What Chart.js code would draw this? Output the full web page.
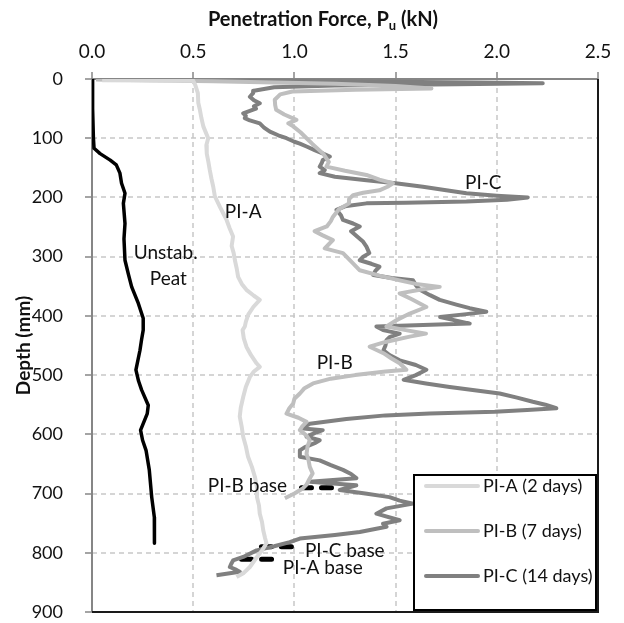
<!DOCTYPE html>
<html>
<head>
<meta charset="utf-8">
<script src="https://cdn.jsdelivr.net/npm/chart.js@4.4.1/dist/chart.umd.min.js"></script>
<style>
  html, body { margin: 0; padding: 0; background: #fff; }
  #chart { display: block; }
</style>
</head>
<body>
<canvas id="chart" width="624" height="623"></canvas>
<script>
// ---- data: depth (mm) and penetration force (kN) ----
const xTicks = [0, 0.5, 1.0, 1.5, 2.0, 2.5];
const yTicks = [0, 100, 200, 300, 400, 500, 600, 700, 800, 900];

const piA_depth = [2, 3, 10, 24, 40, 52, 65, 80, 100, 112, 126, 140, 154, 168, 182, 198, 216, 228, 238, 252, 266, 282, 294, 306, 320, 334, 346, 356, 366, 373, 385, 398, 410, 418, 424, 438, 452, 466, 480, 486, 494, 503, 520, 537, 555, 570, 588, 604, 620, 638, 655, 672, 690, 706, 720, 734, 748, 762, 775, 784, 796, 808, 824, 834, 841];
const piA_force = [0.05, 0.50, 0.51, 0.523, 0.525, 0.533, 0.54, 0.55, 0.574, 0.565, 0.567, 0.575, 0.582, 0.59, 0.599, 0.607, 0.632, 0.65, 0.665, 0.68, 0.697, 0.69, 0.70, 0.706, 0.715, 0.722, 0.74, 0.763, 0.80, 0.829, 0.797, 0.772, 0.76, 0.755, 0.744, 0.75, 0.763, 0.785, 0.813, 0.829, 0.80, 0.78, 0.76, 0.747, 0.735, 0.73, 0.74, 0.747, 0.76, 0.771, 0.79, 0.805, 0.815, 0.815, 0.825, 0.829, 0.84, 0.846, 0.855, 0.862, 0.84, 0.813, 0.78, 0.75, 0.714];

const piB_depth = [1, 4, 8, 12, 16, 18, 21, 26, 35, 44, 52, 60, 69, 75, 80, 90, 100, 110, 126, 140, 148, 155, 162, 170, 176, 182, 188, 192, 196, 203, 210, 220, 233, 240, 249, 257, 264, 272, 279, 286, 294, 308, 323, 332, 340, 346, 351, 356, 362, 372, 385, 396, 408, 418, 424, 430, 435, 444, 452, 463, 472, 480, 491, 494, 500, 506, 514, 522, 531, 540, 548, 556, 565, 572, 579, 586, 593, 602, 610, 620, 633, 644, 655, 666, 678, 685, 691, 700, 708];
const piB_force = [0.02, 0.6, 1.2, 1.5, 1.677, 1.3, 0.99, 0.93, 0.903, 0.905, 0.91, 0.95, 1.01, 0.97, 0.994, 1.03, 1.06, 1.09, 1.142, 1.17, 1.158, 1.25, 1.356, 1.42, 1.487, 1.46, 1.42, 1.34, 1.29, 1.27, 1.27, 1.22, 1.19, 1.18, 1.16, 1.10, 1.14, 1.19, 1.17, 1.15, 1.24, 1.28, 1.323, 1.42, 1.52, 1.60, 1.718, 1.62, 1.52, 1.58, 1.652, 1.57, 1.50, 1.455, 1.55, 1.65, 1.57, 1.45, 1.372, 1.44, 1.48, 1.52, 1.553, 1.45, 1.30, 1.18, 1.092, 1.05, 1.027, 1.00, 0.994, 0.975, 0.961, 1.02, 1.06, 1.04, 1.027, 1.06, 1.076, 1.065, 1.06, 1.07, 1.076, 1.09, 1.07, 1.06, 1.043, 1.0, 0.953];

const piC_depth = [0, 2, 4, 6, 7, 9, 11, 14, 20, 24, 30, 36, 41, 46, 50, 55, 58, 62, 66, 70, 75, 82, 89, 95, 100, 106, 109, 114, 120, 126, 131, 137, 142, 148, 154, 159, 165, 171, 176, 182, 188, 193, 197, 200, 204, 207, 209, 210, 215, 221, 230, 238, 244, 249, 257, 266, 275, 283, 294, 300, 306, 312, 317, 324, 331, 336, 340, 348, 356, 365, 373, 381, 387, 393, 397, 402, 408, 413, 418, 424, 430, 436, 441, 450, 458, 466, 475, 483, 491, 500, 508, 514, 520, 526, 531, 538, 545, 550, 556, 559, 562, 565, 568, 574, 582, 587, 590, 593, 598, 604, 610, 615, 622, 627, 638, 644, 652, 660, 667, 674, 680, 686, 694, 700, 706, 712, 717, 725, 734, 745, 751, 756, 765, 770, 776, 782, 789, 796, 807, 813, 818, 824, 829, 832, 838];
const piC_force = [0.02, 0.5, 1.2, 1.9, 2.227, 1.8, 1.2, 0.9, 0.80, 0.796, 0.78, 0.80, 0.829, 0.80, 0.81, 0.77, 0.747, 0.76, 0.755, 0.78, 0.829, 0.85, 0.879, 0.92, 0.961, 1.00, 1.027, 1.06, 1.10, 1.142, 1.175, 1.14, 1.135, 1.125, 1.15, 1.125, 1.20, 1.356, 1.50, 1.635, 1.75, 1.85, 2.0, 2.153, 2.05, 1.85, 1.55, 1.356, 1.25, 1.208, 1.23, 1.24, 1.29, 1.323, 1.28, 1.31, 1.34, 1.356, 1.37, 1.34, 1.323, 1.38, 1.42, 1.40, 1.39, 1.48, 1.586, 1.60, 1.62, 1.67, 1.718, 1.80, 1.866, 1.948, 1.85, 1.72, 1.80, 1.866, 1.405, 1.438, 1.52, 1.47, 1.455, 1.45, 1.44, 1.47, 1.52, 1.60, 1.652, 1.60, 1.54, 1.65, 1.767, 1.90, 2.014, 2.10, 2.178, 2.24, 2.294, 2.15, 1.99, 1.668, 1.45, 1.257, 1.076, 1.05, 1.043, 1.14, 1.10, 1.06, 1.125, 1.10, 1.05, 1.027, 1.027, 1.125, 1.18, 1.24, 1.28, 1.306, 1.076, 1.306, 1.224, 1.35, 1.47, 1.52, 1.586, 1.455, 1.405, 1.52, 1.438, 1.455, 1.323, 1.20, 1.027, 0.977, 0.90, 0.813, 0.747, 0.697, 0.689, 0.681, 0.714, 0.73, 0.615];

const peat_depth = [0, 50, 100, 117, 126, 137, 145, 159, 176, 193, 210, 244, 270, 306, 330, 351, 379, 404, 424, 440, 458, 491, 510, 525, 551, 565, 593, 610, 627, 660, 706, 740, 762, 784];
const peat_force = [0.0, 0.003, 0.007, 0.01, 0.04, 0.09, 0.12, 0.138, 0.146, 0.163, 0.155, 0.163, 0.158, 0.163, 0.18, 0.196, 0.229, 0.253, 0.253, 0.245, 0.237, 0.217, 0.23, 0.245, 0.278, 0.273, 0.24, 0.25, 0.267, 0.283, 0.295, 0.308, 0.31, 0.307];

// base levels of each pile (dashed markers)
const baseB_force = [1.035, 1.232], baseB_depth = [690, 690];
const baseC_force = [0.837, 1.027], baseC_depth = [790, 790];
const baseA_force = [0.739, 0.936], baseA_depth = [811, 811];

const legendNames = ['PI-A (2 days)', 'PI-B (7 days)', 'PI-C (14 days)'];
const seriesColors = ['#d9d9d9', '#bfbfbf', '#808080'];

// text labels placed in data coordinates
const notes = [
  { text: 'PI-A', x: 0.747, y: 224 },
  { text: 'PI-C', x: 1.933, y: 175 },
  { text: 'Unstab.', x: 0.364, y: 293 },
  { text: 'Peat', x: 0.377, y: 337 },
  { text: 'PI-B', x: 1.199, y: 480 },
  { text: 'PI-B base', x: 0.768, y: 687 },
  { text: 'PI-C base', x: 1.249, y: 797 },
  { text: 'PI-A base', x: 1.14, y: 826 }
];

const FONT = 'Lato, "Open Sans", sans-serif';

function pts(xs, ys) { return xs.map((v, i) => ({ x: v, y: ys[i] })); }

function lineSet(label, xs, ys, color, width, dash) {
  return {
    label, data: pts(xs, ys), showLine: true, borderColor: color, backgroundColor: color,
    borderWidth: width, pointRadius: 0, tension: 0, borderDash: dash || [],
    borderCapStyle: dash ? 'round' : 'butt', borderJoinStyle: 'round'
  };
}

// dashed grid and tick marks, placed with the chart's own scales
const gridPlugin = {
  id: 'dashGrid',
  beforeDatasetsDraw(chart) {
    const ctx = chart.ctx, a = chart.chartArea;
    const xs = chart.scales.x, ys = chart.scales.y;
    ctx.save();
    ctx.lineWidth = 1.5;
    ctx.strokeStyle = '#c8c8c8';
    ctx.setLineDash([5, 4]);
    xTicks.forEach(v => {
      const px = Math.round(xs.getPixelForValue(v));
      ctx.beginPath(); ctx.moveTo(px, a.top); ctx.lineTo(px, a.bottom); ctx.stroke();
    });
    yTicks.forEach(v => {
      const py = Math.round(ys.getPixelForValue(v));
      ctx.beginPath(); ctx.moveTo(a.left, py); ctx.lineTo(a.right, py); ctx.stroke();
    });
    // outward tick marks
    ctx.setLineDash([]);
    ctx.strokeStyle = '#868686';
    xTicks.forEach(v => {
      const px = Math.round(xs.getPixelForValue(v));
      ctx.beginPath(); ctx.moveTo(px, a.top - 7); ctx.lineTo(px, a.top); ctx.stroke();
    });
    yTicks.forEach(v => {
      const py = Math.round(ys.getPixelForValue(v));
      ctx.beginPath(); ctx.moveTo(a.left - 7, py); ctx.lineTo(a.left, py); ctx.stroke();
    });
    // axis lines left and top
    ctx.lineWidth = 2;
    ctx.beginPath();
    ctx.moveTo(a.right, a.top); ctx.lineTo(a.left, a.top); ctx.lineTo(a.left, a.bottom);
    ctx.stroke();
    ctx.restore();
  }
};

// title on top with subscript u
const titlePlugin = {
  id: 'topTitle',
  afterDraw(chart) {
    const ctx = chart.ctx;
    const parts = [['Penetration Force, P', 'bold 20px ' + FONT, 0], ['u', 'bold 13px ' + FONT, 4], [' (kN)', 'bold 20px ' + FONT, 0]];
    ctx.save();
    ctx.fillStyle = '#111';
    ctx.textBaseline = 'alphabetic';
    let total = 0;
    parts.forEach(p => { ctx.font = p[1]; total += ctx.measureText(p[0]).width; });
    let x = 323 - total / 2;
    parts.forEach(p => {
      ctx.font = p[1];
      ctx.fillText(p[0], x, 26 + p[2]);
      x += ctx.measureText(p[0]).width;
    });
    ctx.restore();
  }
};

// annotations, frame and legend box
const extrasPlugin = {
  id: 'extras',
  afterDraw(chart) {
    const ctx = chart.ctx, a = chart.chartArea;
    const xs = chart.scales.x, ys = chart.scales.y;
    ctx.save();
    // right and bottom frame
    ctx.strokeStyle = '#1a1a1a';
    ctx.lineWidth = 2;
    ctx.beginPath();
    ctx.moveTo(a.right, a.top);
    ctx.lineTo(a.right, a.bottom);
    ctx.lineTo(a.left, a.bottom);
    ctx.stroke();

    ctx.font = '19px ' + FONT;
    ctx.fillStyle = '#111';
    ctx.textAlign = 'center';
    ctx.textBaseline = 'middle';
    notes.forEach(n => ctx.fillText(n.text, xs.getPixelForValue(n.x), ys.getPixelForValue(n.y)));

    // legend box inside lower right corner
    const bw = 182, bh = 135;
    const bx = a.right - 2 - bw, by = a.bottom - 2 - bh;
    ctx.fillStyle = '#fff';
    ctx.fillRect(bx, by, bw, bh);
    ctx.strokeStyle = '#000';
    ctx.lineWidth = 2;
    ctx.strokeRect(bx, by, bw, bh);
    ctx.textAlign = 'left';
    ctx.font = '18px ' + FONT;
    legendNames.forEach((name, i) => {
      const yy = by + 11 + i * 45;
      ctx.strokeStyle = seriesColors[i];
      ctx.lineWidth = 4;
      ctx.lineCap = 'round';
      ctx.beginPath();
      ctx.moveTo(bx + 12, yy);
      ctx.lineTo(bx + 64, yy);
      ctx.stroke();
      ctx.fillStyle = '#111';
      ctx.fillText(name, bx + 69, yy);
    });
    ctx.restore();
  }
};

new Chart(document.getElementById('chart'), {
  type: 'scatter',
  data: {
    datasets: [
      lineSet('Unstab. Peat', peat_force, peat_depth, '#000', 3.5),
      lineSet(legendNames[0], piA_force, piA_depth, seriesColors[0], 4),
      lineSet(legendNames[1], piB_force, piB_depth, seriesColors[1], 4),
      lineSet(legendNames[2], piC_force, piC_depth, seriesColors[2], 4),
      lineSet('PI-B base', baseB_force, baseB_depth, '#000', 5, [10, 10]),
      lineSet('PI-C base', baseC_force, baseC_depth, '#000', 5, [10, 10]),
      lineSet('PI-A base', baseA_force, baseA_depth, '#000', 5, [10, 10])
    ]
  },
  options: {
    responsive: false,
    animation: false,
    layout: { padding: { left: 0, top: 0, right: 26, bottom: 11 } },
    plugins: { legend: { display: false }, tooltip: { enabled: false } },
    scales: {
      x: {
        type: 'linear', position: 'top', min: 0, max: 2.5,
        afterBuildTicks: s => { s.ticks = xTicks.map(v => ({ value: v })); },
        afterFit: s => { s.height = 79; },
        ticks: { color: '#111', font: { family: FONT, size: 19 }, padding: 8, callback: v => v.toFixed(1) },
        grid: { display: false },
        border: { display: false }
      },
      y: {
        type: 'linear', reverse: true, min: 0, max: 900,
        afterBuildTicks: s => { s.ticks = yTicks.map(v => ({ value: v })); },
        // fixed axis width, and no extra room for the half label below 900
        afterFit: s => { s.width = 92; s.paddingTop = 0; s.paddingBottom = 0; },
        title: { display: true, text: 'Depth (mm)', color: '#111', font: { family: FONT, size: 19, weight: 'bold' }, padding: { top: 12, bottom: 0 } },
        ticks: { color: '#111', font: { family: FONT, size: 18 }, padding: 21 },
        grid: { display: false },
        border: { display: false }
      }
    }
  },
  plugins: [gridPlugin, titlePlugin, extrasPlugin]
});
</script>
</body>
</html>
